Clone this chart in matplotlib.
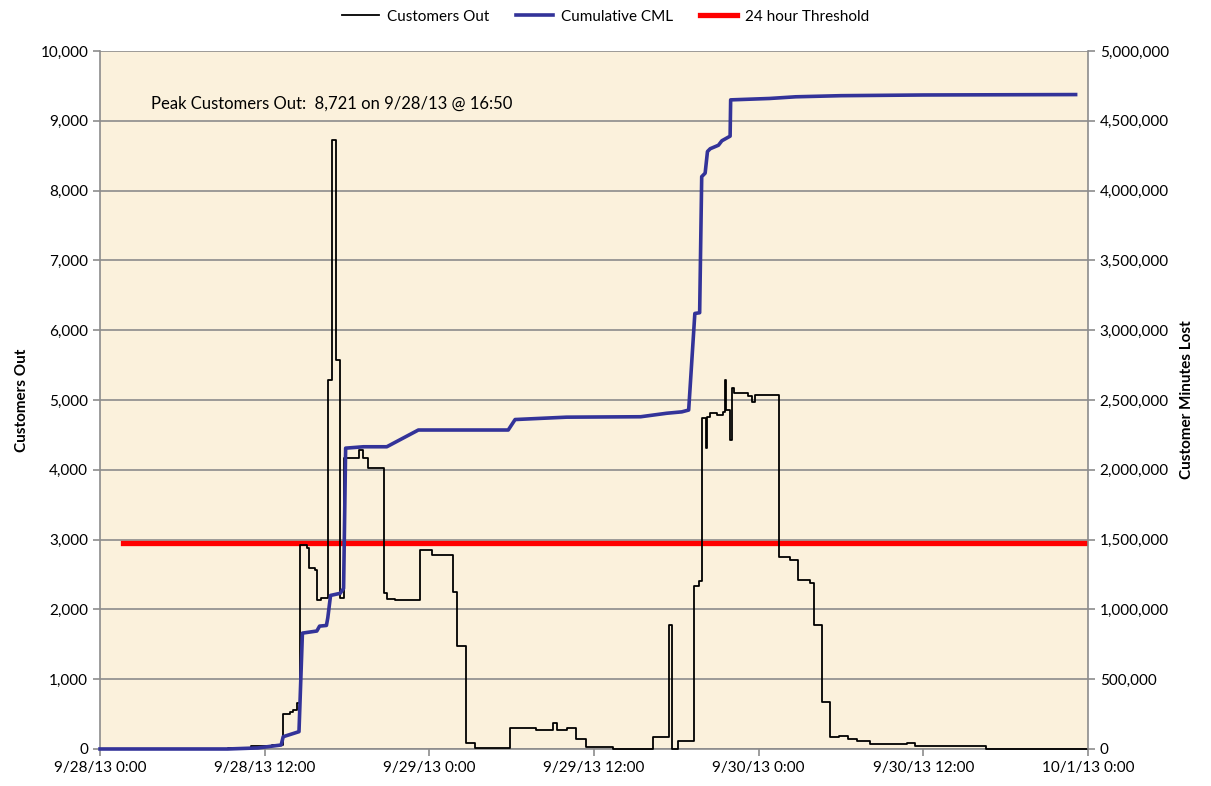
import pandas as pd
import matplotlib
matplotlib.use("Agg")
import matplotlib.pyplot as plt
from matplotlib.ticker import FuncFormatter, MultipleLocator
import matplotlib.dates as mdates

plt.rcParams['font.family'] = ['Lato', 'DejaVu Sans']

# customers out: step changes (hours since 9/28/13 0:00, value)
out_hours = [0.0, 9.3, 11.0, 12.5, 13.3, 13.85, 14.1, 14.35, 14.6, 15.07, 15.25, 15.7,
             15.8, 16.1, 16.6, 16.9, 17.2, 17.5, 17.8, 18.9, 19.2, 19.5, 20.7, 20.9,
             21.5, 23.3, 24.2, 25.75, 26.0, 26.7, 27.3, 29.9, 31.8, 33.0, 33.3, 34.0,
             34.7, 35.4, 37.4, 40.3, 41.5, 41.65, 42.15, 43.3, 43.65, 43.9, 44.15, 44.25,
             44.45, 44.95, 45.4, 45.55, 45.65, 45.9, 46.05, 46.2, 47.25, 47.5, 47.75,
             49.5, 50.3, 50.9, 51.75, 52.0, 52.65, 53.2, 53.85, 54.5, 55.15, 56.1, 58.8,
             59.4, 62.7, 64.6, 66.0, 72.0]
out_values = [0, 20, 40, 55, 500, 535, 560, 660, 2920, 2880, 2590, 2560,
              2130, 2170, 5290, 8721, 5570, 2160, 4170, 4280, 4170, 4020, 2230, 2150,
              2130, 2850, 2780, 2250, 1480, 85, 10, 295, 270, 370, 270, 295,
              140, 25, 0, 165, 1780, 0, 115, 2330, 2400, 4740, 4310, 4750,
              4810, 4780, 4830, 5290, 4860, 4430, 5170, 5095, 5060, 4975, 5070,
              2755, 2710, 2420, 2380, 1775, 680, 165, 185, 150, 120, 70, 90,
              47, 40, 5, 0, 0]

# cumulative customer minutes lost
cml_hours = [0.0, 9.3, 11.5, 13.2, 13.35, 14.5, 14.75, 15.8, 16.0, 16.5, 16.6, 16.8,
             17.5, 17.75, 17.9, 19.2, 20.9, 23.2, 29.75, 30.25, 34.0, 39.4, 41.3, 42.4,
             42.9, 43.35, 43.7, 43.85, 44.1, 44.27, 44.47, 45.07, 45.32, 45.92, 45.96,
             48.8, 50.7, 54.0, 60.0, 71.1]
cml_values = [0, 0, 7500, 28500, 88000, 124000, 830000, 845000, 880000, 885000, 940000, 1100000,
              1115000, 1150000, 2155000, 2165000, 2165000, 2285000, 2285000, 2360000, 2377000, 2380000, 2405000, 2415000,
              2428000, 3120000, 3125000, 4100000, 4125000, 4280000, 4300000, 4325000, 4357000, 4390000, 4650000,
              4660000, 4672000, 4680000, 4685000, 4688000]

threshold_hours = [1.67, 71.8]
threshold_values = [2950, 2950]

start = pd.Timestamp('2013-09-28 00:00')
def to_time(h):
    return start + pd.to_timedelta(h, unit='h')

fig = plt.figure(figsize=(12.11, 7.86), dpi=100)
ax = fig.add_axes([0.0826, 0.0471, 0.8158, 0.888])
ax.set_facecolor('#fbf1dc')

grid_c = '#8c8c8c'
ax.plot(to_time(out_hours), out_values, color='black', lw=1.3, drawstyle='steps-post',
        label='Customers Out', zorder=4, clip_on=False)
ax.plot([], [], color='#333399', lw=2.6, label='Cumulative CML')
ax.plot(to_time(threshold_hours), threshold_values, color='#ff0000', lw=3.8,
        label='24 hour Threshold', zorder=3)

ax2 = ax.twinx()
ax2.plot(to_time(cml_hours), cml_values, color='#333399', lw=2.6, zorder=5, clip_on=False)

ax.set_ylim(0, 10000)
ax2.set_ylim(0, 5000000)
ax.set_xlim(start, to_time(72))
ax.yaxis.set_major_locator(MultipleLocator(1000))
ax2.yaxis.set_major_locator(MultipleLocator(500000))
ax.yaxis.set_major_formatter(FuncFormatter(lambda v, p: '{:,.0f}'.format(v)))
ax2.yaxis.set_major_formatter(FuncFormatter(lambda v, p: '{:,.0f}'.format(v)))

ax.xaxis.set_major_locator(mdates.HourLocator(byhour=[0, 12]))
def fmt_date(v, p):
    d = mdates.num2date(v)
    return '{}/{}/{} {}:{:02d}'.format(d.month, d.day, d.strftime('%y'), d.hour, d.minute)
ax.xaxis.set_major_formatter(FuncFormatter(fmt_date))

ax.grid(axis='y', color=grid_c, lw=1.2)
ax.set_axisbelow(True)
for a in (ax, ax2):
    for s in a.spines.values():
        s.set_color(grid_c)
        s.set_linewidth(1.2)
    a.spines['top'].set_visible(False)
    a.tick_params(colors=grid_c, labelcolor='black', labelsize=11, length=5, width=1.2)
# keep the twin's spines from covering the black line at zero
ax2.spines['bottom'].set_visible(False)
ax2.spines['left'].set_visible(False)
ax.spines['right'].set_visible(False)

ax.set_ylabel('Customers Out', fontsize=11, fontweight='bold', labelpad=8)
ax2.set_ylabel('Customer Minutes Lost', fontsize=11, fontweight='bold', labelpad=8)

ax.text(to_time(3.7), 9250, 'Peak Customers Out:  8,721 on 9/28/13 @ 16:50',
        fontsize=12, va='center', ha='left', zorder=6)

fig.legend(loc='upper center', bbox_to_anchor=(0.5, 1.005), ncol=3, frameon=False,
           fontsize=11, handlelength=2.4, handletextpad=0.5, columnspacing=1.8)

fig.savefig('out.png', dpi=100)
